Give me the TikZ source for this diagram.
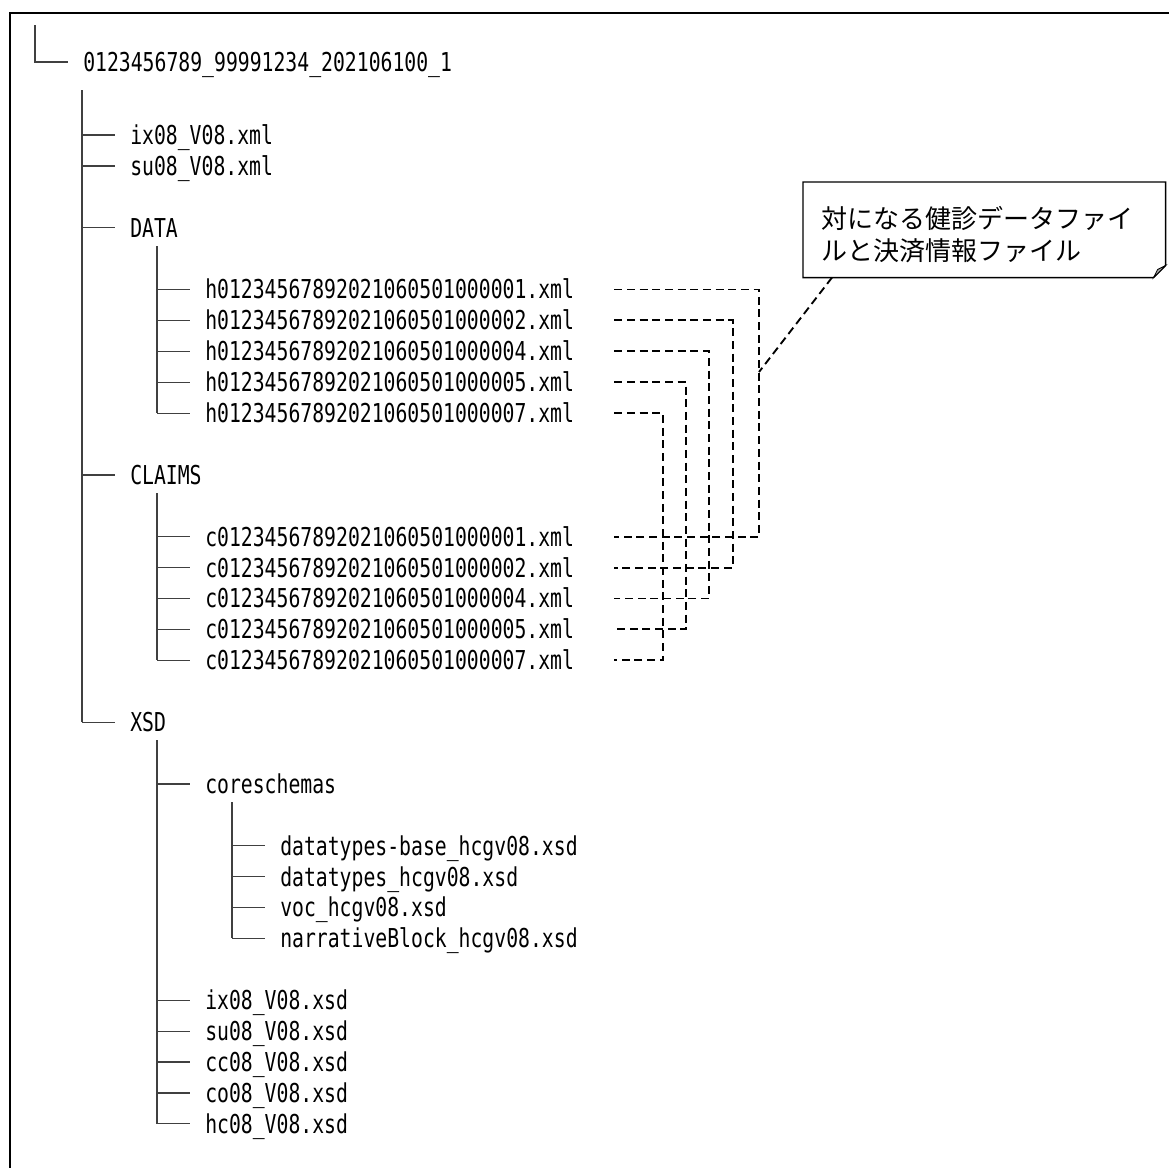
\documentclass[tikz,border=0pt]{standalone}
\usepackage{fontspec}
\usepackage{tikz}
\usetikzlibrary{calc}
\newfontfamily\treefont{DejaVu Sans Mono}[FakeStretch=0.76]
\newfontfamily\jpfont{Noto Sans CJK JP}

\begin{document}
\begin{tikzpicture}[x=0.75pt, y=-0.75pt,
    file/.style={anchor=west, inner sep=0pt, text height=14.2pt, text depth=0pt, font=\treefont\fontsize{19.5}{22}\selectfont},
    tree/.style={draw=black!75, line width=0.9pt},
    pair/.style={draw, line width=1.4pt, dash pattern=on 6pt off 3.5pt},
    frame/.style={draw, line width=1.9pt},
    notebox/.style={draw, line width=1.1pt},
    fold/.style={draw, line width=0.6pt, fill=black!35}
  ]
  \useasboundingbox (0,0) rectangle (1169,1167);
  \draw[frame] (10,1180) |- (1180,13);

  % folders and files
  \node[file] (root) at (83,62) {0123456789\_99991234\_202106100\_1};
  \node[file] (ixml) at (130,135) {ix08\_V08.xml};
  \node[file] (suxml) at (130,165.9) {su08\_V08.xml};
  \node[file] (data) at (130,227.7) {DATA};
  \foreach \k [count=\i] in {1,2,4,5,7}
    \node[file] (h\i) at (205,{289.5+30.9*(\i-1)}) {h0123456789202106050100000\k.xml};
  \node[file] (claims) at (130,474.9) {CLAIMS};
  \foreach \k [count=\i] in {1,2,4,5,7}
    \node[file] (c\i) at (205,{536.7+30.9*(\i-1)}) {c0123456789202106050100000\k.xml};
  \node[file] (xsd) at (130,722.1) {XSD};
  \node[file] (cores) at (205,784) {coreschemas};
  \node[file] (dtb) at (280,845.7) {datatypes-base\_hcgv08.xsd};
  \node[file] (dt) at (280,876.6) {datatypes\_hcgv08.xsd};
  \node[file] (voc) at (280,907.5) {voc\_hcgv08.xsd};
  \node[file] (narr) at (280,938.4) {narrativeBlock\_hcgv08.xsd};
  \node[file] (ixsd) at (205,1000.2) {ix08\_V08.xsd};
  \node[file] (suxsd) at (205,1031.1) {su08\_V08.xsd};
  \node[file] (ccxsd) at (205,1062) {cc08\_V08.xsd};
  \node[file] (coxsd) at (205,1092.9) {co08\_V08.xsd};
  \node[file] (hcxsd) at (205,1123.8) {hc08\_V08.xsd};

  % tree lines
  \coordinate (t0) at (35,25);
  \coordinate (t1) at (82,90);
  \coordinate (t2) at (157,246);
  \coordinate (t3) at (157,493);
  \coordinate (t4) at (157,740);
  \coordinate (t5) at (232,802);
  \draw[tree] (t0) |- ($(root.west)+(-15,0)$);
  \draw[tree] (t1) -- (t1 |- xsd.west);
  \foreach \n in {ixml,suxml,data,claims,xsd}
    \draw[tree] (t1 |- \n.west) -- ($(\n.west)+(-15,0)$);
  \draw[tree] (t2) -- (t2 |- h5.west);
  \draw[tree] (t3) -- (t3 |- c5.west);
  \foreach \i in {1,...,5} {
    \draw[tree] (t2 |- h\i.west) -- ($(h\i.west)+(-15,0)$);
    \draw[tree] (t3 |- c\i.west) -- ($(c\i.west)+(-15,0)$);
  }
  \draw[tree] (t4) -- (t4 |- hcxsd.west);
  \foreach \n in {cores,ixsd,suxsd,ccxsd,coxsd,hcxsd}
    \draw[tree] (t4 |- \n.west) -- ($(\n.west)+(-15,0)$);
  \draw[tree] (t5) -- (t5 |- narr.west);
  \foreach \n in {dtb,dt,voc,narr}
    \draw[tree] (t5 |- \n.west) -- ($(\n.west)+(-15,0)$);

  % pairs of data and claims files
  \foreach \i/\x in {1/759,2/733,3/709,4/686,5/663}
    \coordinate (v\i) at (\x,0);
  \foreach \i in {1,...,5}
    \draw[pair] ($(h\i.east)+(40,0)$) -| (v\i |- c\i.east) -- ($(c\i.east)+(40,0)$);

  % note
  \node[anchor=north west, minimum width=271.5pt, minimum height=71.25pt, text width=243.5pt,
    inner xsep=14pt, inner ysep=6pt, text depth=18pt, align=left,
    font=\jpfont\fontsize{19.5}{24}\selectfont] (note) at (803,182)
    {対になる健診データファイ\\ルと決済情報ファイル};
  \draw[notebox] (note.north west) -- (note.north east) -- ([yshift=9pt]note.south east)
    -- ([xshift=-9pt]note.south east) -- (note.south west) -- cycle;
  \draw[fold] ([yshift=9pt]note.south east) -- ([xshift=-9pt]note.south east)
    -- ([xshift=-6pt,yshift=6pt]note.south east) -- cycle;
  \coordinate (tip) at (759,372);
  \draw[pair] ([xshift=21.75pt]note.south west) -- (tip);
\end{tikzpicture}
\end{document}
